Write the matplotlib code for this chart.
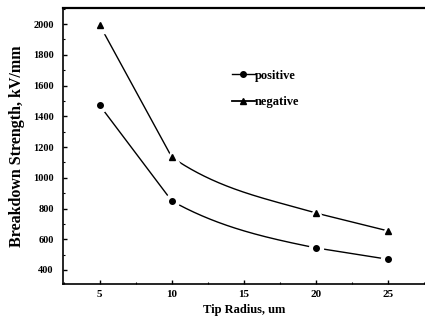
import numpy as np
import matplotlib
matplotlib.use("Agg")
import matplotlib.pyplot as plt
from matplotlib.ticker import MultipleLocator

tip_radius = [5, 10, 20, 25]
positive = [1472, 850, 544, 470]
negative = [1995, 1135, 771, 655]
x_ticks = [5, 10, 15, 20, 25]
y_ticks = [400, 600, 800, 1000, 1200, 1400, 1600, 1800, 2000]


def smooth_line(x, y, xs):
    """Straight outer segments, monotone cubic (PCHIP) inner segments."""
    x = np.asarray(x, float); y = np.asarray(y, float)
    h = np.diff(x); d = np.diff(y) / h
    m = np.zeros_like(y)
    for k in range(1, len(x) - 1):
        if d[k - 1] * d[k] > 0:
            w1 = 2 * h[k] + h[k - 1]; w2 = h[k] + 2 * h[k - 1]
            m[k] = (w1 + w2) / (w1 / d[k - 1] + w2 / d[k])
    out = np.interp(xs, x, y)
    for k in range(1, len(x) - 2):
        sel = (xs >= x[k]) & (xs <= x[k + 1])
        t = (xs[sel] - x[k]) / h[k]
        h00 = 2*t**3 - 3*t**2 + 1; h10 = t**3 - 2*t**2 + t
        h01 = -2*t**3 + 3*t**2; h11 = t**3 - t**2
        out[sel] = h00*y[k] + h10*h[k]*m[k] + h01*y[k+1] + h11*h[k]*m[k+1]
    return out

serif = ["Liberation Serif", "DejaVu Serif"]
plt.rcParams["font.family"] = serif

fig = plt.figure(figsize=(4.25, 3.26), dpi=100)
ax = fig.add_axes([0.148, 0.129, 0.852, 0.846])

xs = np.linspace(tip_radius[0], tip_radius[-1], 400)
for vals, mk, ms in [(positive, "o", 4), (negative, "^", 5)]:
    ax.plot(xs, smooth_line(tip_radius, vals, xs), color="black", lw=1.0,
            zorder=2)
    ax.plot(tip_radius, vals, ls="none", marker=mk, ms=ms + 6,
            color="white", mec="white", zorder=3)
    ax.plot(tip_radius, vals, ls="none", marker=mk, ms=ms,
            color="black", zorder=4)

# legend proxies
h1, = ax.plot([], [], color="black", lw=1.0, marker="o", ms=4)
h2, = ax.plot([], [], color="black", lw=1.3, marker="^", ms=4.5)
leg = ax.legend([h1, h2], ["positive", "negative"], loc="upper left",
                bbox_to_anchor=(0.436, 0.818), frameon=False,
                handlelength=1.8, handletextpad=0.05, labelspacing=1.15,
                prop={"family": serif, "weight": "bold", "size": 9})

ax.set_xlim(2.45, 27.6)
ax.set_ylim(309, 2104)
ax.set_xticks(x_ticks)
ax.set_xticklabels([str(v) for v in x_ticks])
ax.set_yticks(y_ticks)
ax.set_yticklabels([str(v) for v in y_ticks])
ax.xaxis.set_minor_locator(MultipleLocator(2.5))
ax.yaxis.set_minor_locator(MultipleLocator(100))
ax.tick_params(which="major", direction="in", length=3, width=1,
               top=False, right=False)
ax.tick_params(axis="y", which="major", pad=6.5, labelsize=7.5)
ax.tick_params(axis="x", which="major", pad=4, labelsize=8)
ax.tick_params(which="minor", direction="in", length=1.5, width=0.8,
               top=False, right=False)
for lab in ax.get_xticklabels() + ax.get_yticklabels():
    lab.set_fontweight("bold")
for side in ["left", "bottom"]:
    ax.spines[side].set_linewidth(1.2)
ax.spines["top"].set_linewidth(1.6)
ax.spines["right"].set_visible(False)

ax.set_xlabel("Tip Radius, um", fontsize=9, fontweight="bold", labelpad=4)
ax.set_ylabel("Breakdown Strength, kV/mm", fontsize=11.5, fontweight="bold",
              labelpad=6)

fig.savefig("out.png", dpi=100)
